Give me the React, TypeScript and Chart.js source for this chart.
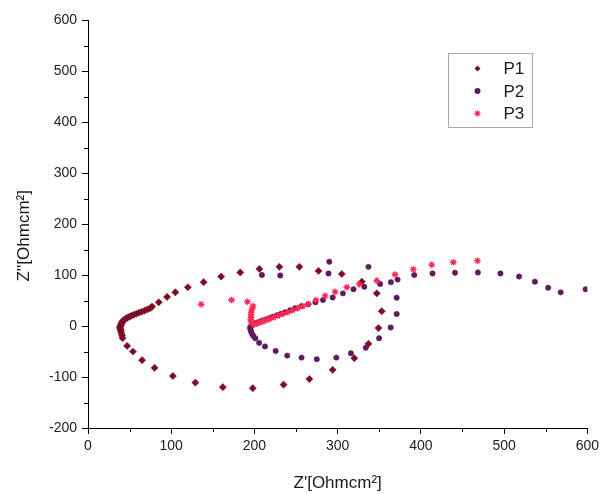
import React, { useEffect, useRef } from 'react';
import { Chart, registerables } from 'chart.js';

Chart.register(...registerables);

const seriesNames = ['P1', 'P2', 'P3'];
const seriesColors = ['#7d0c25', '#5c1b5a', '#ff2a52'];

// P1: outer loop starting near Z' = 40
const p1X = [40, 39.5, 39, 38.5, 38.5, 39, 39.5, 40, 40.5, 41, 42, 43.5, 45, 47, 49.5, 52, 55, 58, 61, 64.5, 68, 71.5, 75, 77, 85, 95, 105, 120, 139, 160, 183, 206, 230, 254, 277, 305, 329, 347, 353, 349, 337, 320, 294, 266, 235, 198, 162, 129, 102, 80, 65, 54, 47, 41.5, 41];
const p1Y = [-14, -10, -7, -4, -2, 0, 2, 4, 6, 8, 10, 12, 14, 16, 18, 20, 22, 24, 26, 28, 30, 32.5, 35, 38, 46.5, 57, 66, 76, 86, 97, 105, 112, 116, 116, 108, 102, 87, 64, 29, -4, -35, -63, -86, -104, -115, -122, -120, -111, -98, -82, -67, -50, -39, -24, -19];

// P2: inner loop starting near Z' = 196, plus tail to the right
const p2X = [195, 195, 195.5, 196, 197, 198.5, 201, 205.6, 212.7, 225.5, 239.4, 256.6, 274.9, 298.4, 315.9, 333.8, 349.8, 363.7, 370.9, 370.9, 364, 197, 199, 201, 204, 207, 210, 214, 218, 222, 227, 232, 237, 243, 249, 256.6, 264.5, 273.3, 282.4, 294, 306.3, 319, 332, 351, 372, 392, 414, 441, 468.5, 495.6, 518, 537, 553, 568, 598, 209, 231, 289, 290, 337];
const p2Y = [-2, -5, -8, -11, -15, -19, -24, -33, -40, -49, -58, -62, -65, -62, -53.5, -42.5, -24, -3, 23.5, 55.5, 86, 2, 4, 5.5, 7, 9, 11, 13, 15.5, 18, 21, 24, 27, 31, 35, 39, 42.5, 46.5, 51, 56, 64, 72, 77, 82.4, 91, 100, 103, 104.5, 105, 103, 97, 87, 75, 66, 72, 100, 99, 103, 126, 116];

// P3: stars along the rising branch from Z' = 196
const p3X = [136, 172.5, 191.6, 198.4, 197, 196, 196, 196, 195.5, 196, 197, 200, 203, 206, 210, 214, 218, 223, 228, 234, 240, 246, 252, 258, 265, 274, 285, 297, 311, 326, 347, 369, 391, 413, 439, 468];
const p3Y = [42.5, 51, 47.6, 39, 33, 27, 22, 17.6, 13, 10, 5, 3, 5, 7, 9, 11.5, 14, 17, 20, 23.5, 27, 31, 35, 39, 43, 51, 59, 67, 76, 82, 89, 101, 111, 120, 125, 128];

const xRange = [0, 600];
const yRange = [-200, 600];
const majorStep = 100;
const minorStep = 50;

const xTitle = "Z'[Ohmcm²]";
const yTitle = "Z''[Ohmcm²]";

const toPoints = (xs: number[], ys: number[]) => xs.map((x, i) => ({ x, y: ys[i] }));

const FONT = 'Arial, "Liberation Sans", Helvetica, sans-serif';

function drawMarker(ctx: CanvasRenderingContext2D, style: string, x: number, y: number, r: number, color: string) {
  ctx.save();
  ctx.fillStyle = color;
  ctx.strokeStyle = color;
  ctx.beginPath();
  if (style === 'rectRot') {
    ctx.moveTo(x, y - r);
    ctx.lineTo(x + r, y);
    ctx.lineTo(x, y + r);
    ctx.lineTo(x - r, y);
    ctx.closePath();
    ctx.fill();
  } else if (style === 'circle') {
    ctx.arc(x, y, r, 0, Math.PI * 2);
    ctx.fill();
  } else {
    ctx.lineWidth = 1.3;
    for (let k = 0; k < 4; k++) {
      const a = (k * Math.PI) / 4;
      ctx.moveTo(x - Math.cos(a) * r, y - Math.sin(a) * r);
      ctx.lineTo(x + Math.cos(a) * r, y + Math.sin(a) * r);
    }
    ctx.stroke();
  }
  ctx.restore();
}

const minorTicks = {
  id: 'minorTicks',
  afterDraw(chart: any) {
    const { ctx, scales } = chart;
    const x = scales.x;
    const y = scales.y;
    ctx.save();
    ctx.strokeStyle = '#000';
    ctx.lineWidth = 1;
    ctx.beginPath();
    for (let v = xRange[0] + minorStep; v < xRange[1]; v += majorStep) {
      const px = Math.round(x.getPixelForValue(v)) + 0.5;
      ctx.moveTo(px, x.top);
      ctx.lineTo(px, x.top + 4);
    }
    for (let v = yRange[0] + minorStep; v < yRange[1]; v += majorStep) {
      const py = Math.round(y.getPixelForValue(v)) + 0.5;
      ctx.moveTo(y.right, py);
      ctx.lineTo(y.right - 4, py);
    }
    ctx.stroke();
    ctx.restore();
  },
};

const boxLegend = {
  id: 'boxLegend',
  afterDraw(chart: any) {
    const ctx = chart.ctx;
    const left = 448.5;
    const top = 53.5;
    const w = 84;
    const h = 74;
    ctx.save();
    ctx.fillStyle = '#fff';
    ctx.fillRect(left, top, w, h);
    ctx.strokeStyle = '#a8a8a8';
    ctx.lineWidth = 1;
    ctx.strokeRect(left, top, w, h);
    ctx.font = `17px ${FONT}`;
    ctx.textBaseline = 'middle';
    ctx.textAlign = 'left';
    chart.data.datasets.forEach((ds: any, i: number) => {
      const cy = top + 15 + i * 22.5;
      drawMarker(ctx, ds.pointStyle, left + 29, cy, ds.pointStyle === 'star' ? 3 : 3, ds.backgroundColor);
      ctx.fillStyle = '#1a1a1a';
      ctx.fillText(ds.label, left + 55, cy + 1);
    });
    ctx.restore();
  },
};

export default function App() {
  const ref = useRef<HTMLCanvasElement | null>(null);

  useEffect(() => {
    if (!ref.current) return;
    const chart = new Chart(ref.current, {
      type: 'scatter',
      data: {
        datasets: [
          {
            label: seriesNames[0],
            data: toPoints(p1X, p1Y),
            pointStyle: 'rectRot',
            pointRadius: 3.6,
            backgroundColor: seriesColors[0],
            borderColor: seriesColors[0],
            borderWidth: 0.5,
            order: 3,
          },
          {
            label: seriesNames[1],
            data: toPoints(p2X, p2Y),
            pointStyle: 'circle',
            pointRadius: 2.7,
            backgroundColor: seriesColors[1],
            borderColor: seriesColors[1],
            borderWidth: 0.5,
            order: 2,
          },
          {
            label: seriesNames[2],
            data: toPoints(p3X, p3Y),
            pointStyle: 'star',
            pointRadius: 3.3,
            backgroundColor: seriesColors[2],
            borderColor: seriesColors[2],
            borderWidth: 1.3,
            order: 1,
          },
        ],
      },
      options: {
        responsive: false,
        animation: false,
        events: [],
        layout: { padding: { left: 0, right: 13, top: 20, bottom: 0 } },
        plugins: {
          legend: { display: false },
          tooltip: { enabled: false },
        },
        scales: {
          x: {
            type: 'linear',
            min: xRange[0],
            max: xRange[1],
            afterFit: (s: any) => {
              s.height = 66;
            },
            ticks: {
              stepSize: majorStep,
              color: '#222',
              padding: 4,
              font: { family: FONT, size: 14 },
            },
            grid: { drawOnChartArea: false, drawTicks: true, tickLength: 6, color: '#000' },
            border: { display: true, color: '#000', width: 1 },
            title: {
              display: true,
              text: xTitle,
              color: '#1a1a1a',
              font: { family: FONT, size: 17 },
              padding: { top: 0, bottom: 0 },
            },
          },
          y: {
            type: 'linear',
            min: yRange[0],
            max: yRange[1],
            afterFit: (s: any) => {
              s.width = 88;
            },
            ticks: {
              stepSize: majorStep,
              color: '#222',
              padding: 5,
              font: { family: FONT, size: 14 },
            },
            grid: { drawOnChartArea: false, drawTicks: true, tickLength: 6, color: '#000' },
            border: { display: true, color: '#000', width: 1 },
            title: {
              display: true,
              text: yTitle + '\u00a0\u00a0\u00a0\u00a0\u00a0',
              color: '#1a1a1a',
              font: { family: FONT, size: 17 },
              padding: { top: 14, bottom: 0 },
            },
          },
        },
      },
      plugins: [minorTicks, boxLegend],
    });
    return () => chart.destroy();
  }, []);

  return (
    <div style={{ position: 'absolute', left: 0, top: 0, width: 603, height: 494, background: '#fff' }}>
      <canvas ref={ref} width={603} height={494} style={{ display: 'block' }} />
    </div>
  );
}
